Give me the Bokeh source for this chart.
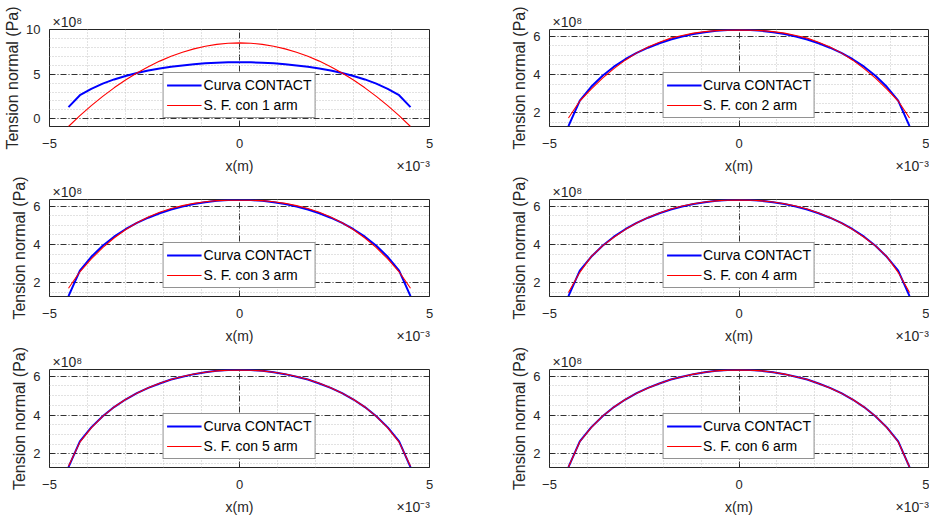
from bokeh.plotting import figure
from bokeh.layouts import gridplot
from bokeh.models import Range1d, FixedTicker, LinearAxis
from bokeh.embed import file_html
from bokeh.resources import INLINE

# x positions in units of 1e-3 m
X_E3 = [-4.5, -4.2, -3.9, -3.6, -3.3, -3.0, -2.7, -2.4, -2.1, -1.8, -1.5, -1.2, -0.9, -0.6, -0.3,
        0.0, 0.3, 0.6, 0.9, 1.2, 1.5, 1.8, 2.1, 2.4, 2.7, 3.0, 3.3, 3.6, 3.9, 4.2, 4.5]

# normal stress in units of 1e8 Pa
CONTACT_E8 = [1.31, 2.64, 3.36, 3.94, 4.41, 4.80, 5.13, 5.40, 5.63, 5.83, 5.98, 6.11, 6.21, 6.28, 6.32,
              6.33, 6.32, 6.28, 6.21, 6.11, 5.98, 5.83, 5.63, 5.40, 5.13, 4.80, 4.41, 3.94, 3.36, 2.64, 1.31]

SF1_E8 = [-0.86, 0.35, 1.47, 2.51, 3.47, 4.34, 5.13, 5.84, 6.46, 7.00, 7.46, 7.83, 8.13, 8.33, 8.46,
          8.50, 8.46, 8.33, 8.13, 7.83, 7.46, 7.00, 6.46, 5.84, 5.13, 4.34, 3.47, 2.51, 1.47, 0.35, -0.86]
SF2_E8 = [1.73, 2.62, 3.24, 3.81, 4.31, 4.75, 5.13, 5.44, 5.69, 5.90, 6.04, 6.16, 6.24, 6.29, 6.32,
          6.33, 6.32, 6.29, 6.24, 6.16, 6.04, 5.90, 5.69, 5.44, 5.13, 4.75, 4.31, 3.81, 3.24, 2.62, 1.73]
SF3_E8 = [1.72, 2.58, 3.25, 3.84, 4.34, 4.77, 5.14, 5.44, 5.68, 5.88, 6.03, 6.15, 6.23, 6.29, 6.31,
          6.31, 6.31, 6.29, 6.23, 6.15, 6.03, 5.88, 5.68, 5.44, 5.14, 4.77, 4.34, 3.84, 3.25, 2.58, 1.72]
SF4_E8 = [1.50, 2.55, 3.37, 3.93, 4.38, 4.78, 5.12, 5.41, 5.65, 5.85, 6.01, 6.13, 6.22, 6.28, 6.32,
          6.33, 6.32, 6.28, 6.22, 6.13, 6.01, 5.85, 5.65, 5.41, 5.12, 4.78, 4.38, 3.93, 3.37, 2.55, 1.50]
SF5_E8 = [1.36, 2.60, 3.34, 3.93, 4.41, 4.80, 5.13, 5.41, 5.64, 5.83, 5.99, 6.12, 6.21, 6.28, 6.31,
          6.32, 6.31, 6.28, 6.21, 6.12, 5.99, 5.83, 5.64, 5.41, 5.13, 4.80, 4.41, 3.93, 3.34, 2.60, 1.36]
SF6_E8 = [1.32, 2.62, 3.35, 3.94, 4.41, 4.80, 5.13, 5.40, 5.63, 5.83, 5.98, 6.11, 6.21, 6.28, 6.32,
          6.33, 6.32, 6.28, 6.21, 6.11, 5.98, 5.83, 5.63, 5.40, 5.13, 4.80, 4.41, 3.94, 3.35, 2.62, 1.32]

SERIES = [SF1_E8, SF2_E8, SF3_E8, SF4_E8, SF5_E8, SF6_E8]
HARMONICS = [1, 2, 3, 4, 5, 6]

X_TICKS = [-5, 0, 5]
X_MINOR = [-4, -3, -2, -1, 1, 2, 3, 4]
Y_TICKS_FIRST = [0, 5, 10]
Y_MINOR_FIRST = [1, 2, 3, 4, 6, 7, 8, 9]
Y_TICKS = [2, 4, 6]
Y_MINOR = [1.5, 2.5, 3, 3.5, 4.5, 5, 5.5]
Y_RANGE_FIRST = (-0.86, 10)
Y_RANGE = (1.29, 6.35)

Y_MULT = "\u00d710\u2078"          # x10^8
X_MULT = "\u00d710\u207b\u00b3"    # x10^-3
X_LABEL = "x(m)"
Y_LABEL = "Tension normal (Pa)"
# where the texts above / below the frame sit, along the x axis
Y_MULT_AT = -4.53
X_LABEL_AT = 0.0
X_MULT_AT = 4.57

FONT = "Liberation Sans"
DARK = "#262626"

HEIGHTS = [176, 170, 172]
TOPS = [29, 23, 23]
BOTTOMS = [49, 49, 51]


def text_axis(ticks, labels, standoff, size):
    ax = LinearAxis(ticker=FixedTicker(ticks=ticks, minor_ticks=[]),
                    major_label_overrides=dict(zip(ticks, labels)))
    ax.axis_line_color = None
    ax.major_tick_line_color = None
    ax.minor_tick_line_color = None
    ax.major_tick_in = 0
    ax.major_tick_out = 0
    ax.major_label_standoff = standoff
    ax.major_label_text_font = FONT
    ax.major_label_text_font_size = size
    ax.major_label_text_color = DARK
    return ax


def make(idx):
    row, col = idx // 2, idx % 2
    left = col == 0
    n = HARMONICS[idx]
    yr = Y_RANGE_FIRST if idx == 0 else Y_RANGE
    p = figure(width=470 if left else 459, height=HEIGHTS[row],
               min_border_left=49 if left else 79, min_border_right=41 if left else 1,
               min_border_top=TOPS[row], min_border_bottom=BOTTOMS[row],
               x_range=Range1d(-5, 5), y_range=Range1d(*yr),
               output_backend="svg", toolbar_location=None)
    p.background_fill_color = "white"
    p.border_fill_color = "white"
    p.outline_line_color = DARK
    p.outline_line_width = 1

    p.xaxis.ticker = FixedTicker(ticks=X_TICKS, minor_ticks=X_MINOR)
    if idx == 0:
        p.yaxis.ticker = FixedTicker(ticks=Y_TICKS_FIRST, minor_ticks=Y_MINOR_FIRST)
    else:
        p.yaxis.ticker = FixedTicker(ticks=Y_TICKS, minor_ticks=Y_MINOR)

    for ax in (p.xaxis[0], p.yaxis[0]):
        ax.axis_line_color = None
        ax.major_tick_in = 4
        ax.major_tick_out = 0
        ax.major_tick_line_color = DARK
        ax.minor_tick_line_color = None
        ax.major_label_text_font = FONT
        ax.major_label_text_font_size = "13px"
        ax.major_label_text_color = DARK
        ax.axis_label_text_font = FONT
        ax.axis_label_text_font_size = "16px"
        ax.axis_label_text_font_style = "normal"
        ax.axis_label_text_color = DARK
    p.xaxis.major_label_standoff = 8
    p.yaxis.axis_label = Y_LABEL
    p.yaxis.major_label_standoff = 5
    p.yaxis.axis_label_standoff = 2

    # multiplier above, x label + multiplier below
    p.add_layout(text_axis([Y_MULT_AT], [Y_MULT], 0, "14px"), "above")
    p.add_layout(text_axis([X_LABEL_AT, X_MULT_AT], [X_LABEL, X_MULT], 7, "14px"), "below")

    for g in (p.xgrid[0], p.ygrid[0]):
        g.grid_line_color = "#333333"
        g.grid_line_width = 1
        g.grid_line_dash = "6 2 1 2"
        g.minor_grid_line_color = "#c4c4c4"
        g.minor_grid_line_width = 1
        g.minor_grid_line_dash = "1 2"

    p.line(X_E3, CONTACT_E8, color="#0000ff", line_width=2, legend_label="Curva CONTACT")
    p.line(X_E3, SERIES[idx], color="#ff0000", line_width=1.1, legend_label="S. F. con %d arm" % n)

    lg = p.legend[0]
    lg.location = "bottom_center"
    lg.margin = 8
    lg.padding = 3
    lg.spacing = 2
    lg.glyph_width = 35
    lg.glyph_height = 18
    lg.label_height = 18
    lg.label_standoff = 2
    lg.label_text_font = FONT
    lg.label_text_font_size = "14px"
    lg.label_text_color = "#000000"
    lg.border_line_color = DARK
    lg.border_line_width = 1
    lg.background_fill_color = "white"
    lg.background_fill_alpha = 1
    return p


plots = [make(i) for i in range(6)]
grid = gridplot([[plots[0], plots[1]], [plots[2], plots[3]], [plots[4], plots[5]]],
                toolbar_location=None)

open("out.html", "w").write(file_html(grid, INLINE))
